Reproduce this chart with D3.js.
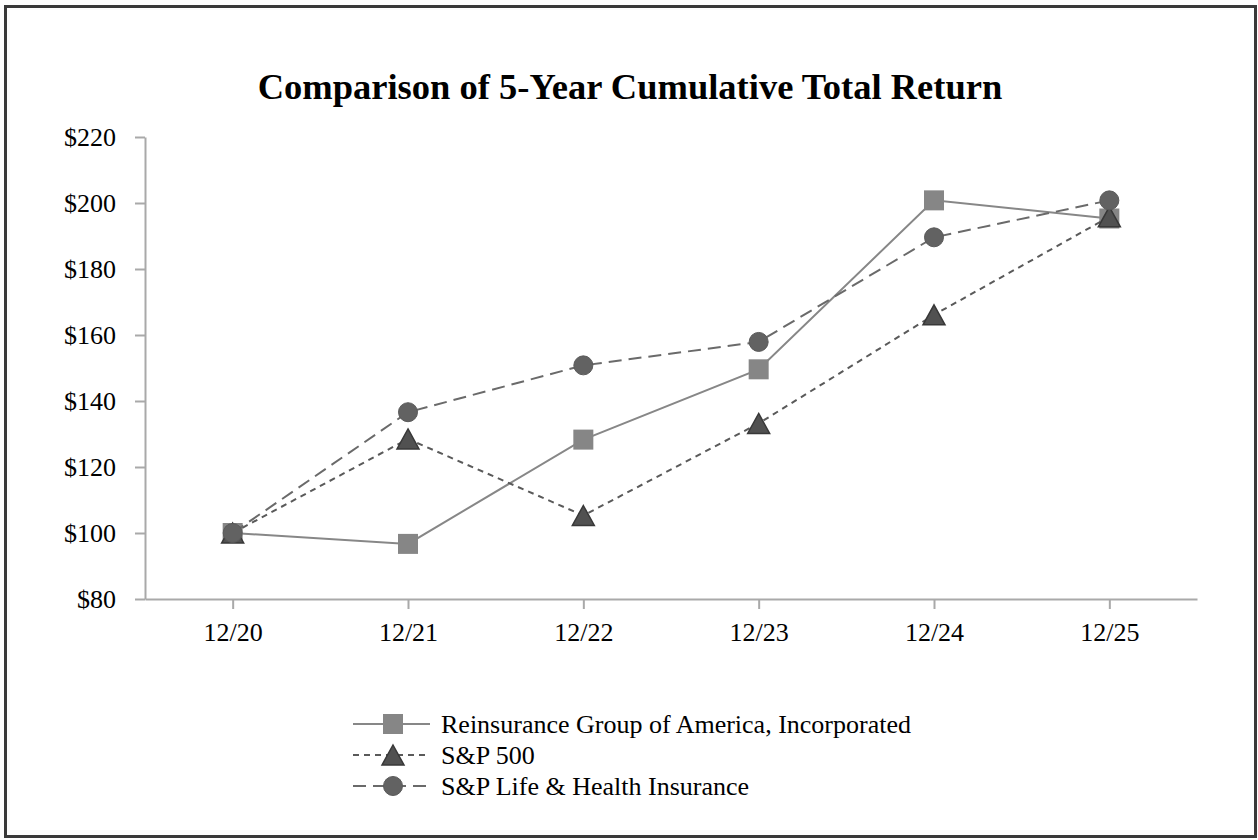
<!DOCTYPE html>
<html lang="en">
<head>
	<title>Comparison of 5-Year Cumulative Total Return</title>
	<script src="https://d3js.org/d3.v7.min.js" charset="utf-8"></script>
	<style>
		body { margin: 0; background: #fff; }
	</style>
</head>
<body>
<script>
// data
var years = ["12/20", "12/21", "12/22", "12/23", "12/24", "12/25"];
var rgaValues = [100, 96.7, 128.3, 149.6, 200.8, 195.3];
var sp500Values = [100, 128.5, 105.3, 133.2, 166.1, 195.8];
var lifeHealthValues = [100, 136.6, 150.8, 157.9, 189.6, 200.8];
var yTicks = [80, 100, 120, 140, 160, 180, 200, 220];
var seriesNames = ["Reinsurance Group of America, Incorporated", "S&P 500", "S&P Life & Health Insurance"];

var series = [
	{ name: seriesNames[0], values: rgaValues, line: "#878787", dash: null, marker: "square", fill: "#868686", stroke: "none" },
	{ name: seriesNames[1], values: sp500Values, line: "#5a5a5a", dash: "6,5", marker: "triangle", fill: "#515151", stroke: "#383838" },
	{ name: seriesNames[2], values: lifeHealthValues, line: "#6a6a6a", dash: "13,7", marker: "circle", fill: "#626262", stroke: "#5a5a5a" }
];

var w = 1258;
var h = 840;
var fontFamily = "'Liberation Serif', 'Times New Roman', serif";

var svg = d3.select("body")
	.append("svg")
	.attr("width", w)
	.attr("height", h);

// outer frame
svg.append("rect")
	.attr("x", 5.5)
	.attr("y", 6.5)
	.attr("width", 1250)
	.attr("height", 830)
	.attr("fill", "#fff")
	.attr("stroke", "#3a3a3a")
	.attr("stroke-width", 3);

// title
svg.append("text")
	.attr("x", 630)
	.attr("y", 99)
	.attr("text-anchor", "middle")
	.attr("font-family", fontFamily)
	.attr("font-weight", "bold")
	.attr("font-size", 36.5)
	.text("Comparison of 5-Year Cumulative Total Return");

// scales
var xScale = d3.scalePoint()
	.domain(years)
	.range([145, 1197])
	.padding(0.5);

var yScale = d3.scaleLinear()
	.domain([80, 220])
	.range([599, 137]);

// y axis
var yAxis = svg.append("g")
	.attr("transform", "translate(145,0)")
	.call(d3.axisLeft(yScale)
		.tickValues(yTicks)
		.tickSize(10)
		.tickSizeOuter(0)
		.tickPadding(19)
		.tickFormat(function(d){ return "$" + d; }));

// x axis
var xAxis = svg.append("g")
	.attr("transform", "translate(0,599)")
	.call(d3.axisBottom(xScale)
		.tickSize(10)
		.tickSizeOuter(0)
		.tickPadding(14));

[yAxis, xAxis].forEach(function(ax){
	ax.selectAll("path, line")
		.attr("stroke", "#a9a9a9")
		.attr("stroke-width", 2);
	ax.selectAll("text")
		.attr("fill", "#000")
		.attr("font-family", fontFamily)
		.attr("font-size", 26);
});

// marker drawing helper
function drawMarker(g, type, fill, stroke, x, y){
	if (type == "square") {
		g.append("rect")
			.attr("x", x - 10).attr("y", y - 10)
			.attr("width", 20).attr("height", 20)
			.attr("fill", fill);
	} else if (type == "triangle") {
		g.append("path")
			.attr("d", "M" + x + "," + (y - 10) + "L" + (x + 11) + "," + (y + 10) + "L" + (x - 11) + "," + (y + 10) + "Z")
			.attr("fill", fill)
			.attr("stroke", stroke)
			.attr("stroke-width", 1.5);
	} else {
		g.append("circle")
			.attr("cx", x).attr("cy", y).attr("r", 9.5)
			.attr("fill", fill)
			.attr("stroke", stroke)
			.attr("stroke-width", 1);
	}
}

var line = d3.line()
	.x(function(d, i){ return xScale(years[i]); })
	.y(function(d){ return yScale(d); });

// lines and markers
series.forEach(function(s){
	var g = svg.append("g");
	g.append("path")
		.attr("d", line(s.values))
		.attr("fill", "none")
		.attr("stroke", s.line)
		.attr("stroke-width", 2)
		.attr("stroke-dasharray", s.dash);
	s.values.forEach(function(v, i){
		drawMarker(g, s.marker, s.fill, s.stroke, xScale(years[i]), yScale(v));
	});
});

// legend
var legendRows = [724, 755, 786];
series.forEach(function(s, i){
	var g = svg.append("g")
		.attr("transform", "translate(0," + legendRows[i] + ")");
	g.append("line")
		.attr("x1", 353).attr("x2", 430)
		.attr("y1", 0).attr("y2", 0)
		.attr("stroke", s.line)
		.attr("stroke-width", 2)
		.attr("stroke-dasharray", s.dash);
	drawMarker(g, s.marker, s.fill, s.stroke, 393, 0);
	g.append("text")
		.attr("x", 441)
		.attr("y", 0)
		.attr("dy", "0.35em")
		.attr("font-family", fontFamily)
		.attr("font-size", 26)
		.text(s.name);
});
</script>
</body>
</html>
